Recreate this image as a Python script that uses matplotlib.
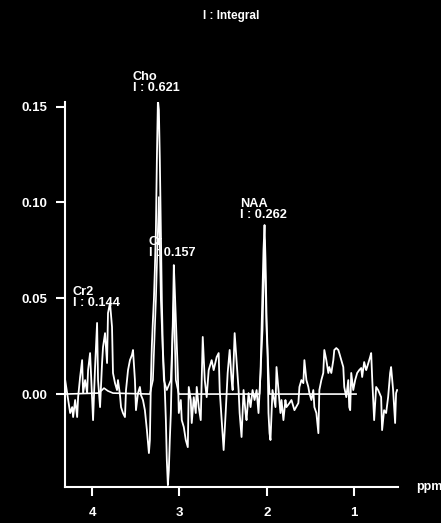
# MR spectrum with fitted peaks, integral labels, black background

import matplotlib.pyplot as plt
from matplotlib.ticker import FormatStrFormatter

# Spectrum (ppm, intensity)
ppm = [4.308, 4.285, 4.274, 4.251, 4.228, 4.217, 4.194, 4.171, 4.160, 4.137,
       4.114, 4.103, 4.080, 4.057, 4.046, 4.023, 4.000, 3.989, 3.966, 3.943,
       3.932, 3.909, 3.886, 3.875, 3.852, 3.829, 3.818, 3.795, 3.772, 3.761,
       3.738, 3.715,
       3.704, 3.681, 3.669, 3.647, 3.624, 3.612, 3.589, 3.567, 3.544, 3.532,
       3.510, 3.498, 3.475, 3.453, 3.441, 3.418, 3.396, 3.373, 3.350, 3.339,
       3.327, 3.316, 3.304, 3.293, 3.282, 3.270, 3.259, 3.247, 3.236, 3.225,
       3.213, 3.202, 3.190, 3.168, 3.156, 3.145, 3.133, 3.122, 3.111, 3.099,
       3.088, 3.076, 3.065, 3.054, 3.042, 3.031, 3.019, 3.008,
       2.985, 2.974, 2.951, 2.928, 2.905, 2.894, 2.871, 2.860, 2.837, 2.814,
       2.803, 2.780, 2.757, 2.734, 2.711, 2.689, 2.666, 2.632, 2.609, 2.575,
       2.552, 2.540, 2.518, 2.495, 2.472, 2.449, 2.426, 2.404, 2.392, 2.369,
       2.358, 2.324, 2.312, 2.290, 2.267, 2.244, 2.233, 2.210, 2.187, 2.164,
       2.141, 2.118, 2.096, 2.073, 2.061, 2.050, 2.039, 2.027, 2.016, 2.004,
       1.993, 1.982, 1.970, 1.959, 1.936, 1.902, 1.890, 1.868, 1.845, 1.833,
       1.811, 1.788, 1.776, 1.742,
       1.719, 1.685, 1.640, 1.628, 1.605, 1.583, 1.571, 1.548, 1.526, 1.514,
       1.491, 1.469, 1.457, 1.434, 1.411, 1.400, 1.377, 1.355, 1.343, 1.320,
       1.297, 1.286, 1.263, 1.240, 1.229, 1.206, 1.183, 1.172, 1.149, 1.126,
       1.115, 1.092, 1.069, 1.058,
       1.047, 1.035, 1.012, 0.990, 0.967, 0.944, 0.921, 0.910, 0.887, 0.864,
       0.853, 0.819, 0.807, 0.796, 0.773, 0.750, 0.727, 0.693, 0.682, 0.659,
       0.636, 0.613, 0.590, 0.579, 0.556, 0.533, 0.522, 0.510]
signal = [0.0073, 0.0005, -0.0031, -0.0099, -0.0068, -0.0120, -0.0031, -0.0120, -0.0016, 0.0089,
          0.0177, 0.0005, 0.0073, 0.0005, 0.0125, 0.0214, -0.0016, -0.0136, 0.0141, 0.0371,
          0.0073, -0.0068, 0.0162, 0.0245, 0.0318, 0.0162, 0.0423, 0.0475, 0.0350, 0.0110,
          0.0057, 0.0021,
          0.0073, -0.0005, -0.0068, -0.0099, -0.0120, 0.0021, 0.0125, 0.0177, 0.0204, 0.0230,
          0.0073, -0.0084, 0.0005, 0.0037, -0.0005, -0.0031, -0.0084, -0.0188, -0.0308, -0.0240,
          0.0073, 0.0256, 0.0386, 0.0491, 0.0647, 0.0856, 0.1221, 0.1535, 0.1482, 0.1221,
          0.0856, 0.0491, 0.0230, 0.0021, -0.0136, -0.0345, -0.0475, -0.0397, -0.0240, -0.0099,
          0.0125, 0.0386, 0.0673, 0.0543, 0.0386, 0.0256, 0.0110, -0.0099,
          -0.0031, -0.0136, -0.0172, -0.0240, -0.0277, 0.0037, -0.0031, -0.0151, -0.0016, -0.0099,
          0.0037, -0.0068, -0.0136, 0.0298, 0.0073, -0.0016, 0.0125, 0.0177, 0.0125, 0.0193,
          0.0214, 0.0021, -0.0136, -0.0292, -0.0099, 0.0110, 0.0230, 0.0073, 0.0021, 0.0318,
          0.0245, 0.0021, -0.0099, -0.0224, 0.0021, -0.0099, -0.0136, 0.0005, -0.0068, 0.0021,
          -0.0031, 0.0021, -0.0099, 0.0110, 0.0334, 0.0543, 0.0752, 0.0882, 0.0699, 0.0400,
          0.0230, -0.0099, -0.0204, -0.0240, 0.0021, -0.0068, 0.0141, 0.0021, -0.0099, -0.0031,
          -0.0136, -0.0031, -0.0068, -0.0047,
          -0.0031, -0.0084, -0.0047, 0.0037, 0.0073, 0.0057, 0.0177, 0.0073, 0.0037, 0.0005,
          -0.0031, 0.0021, -0.0068, -0.0099, -0.0204, 0.0021, 0.0073, 0.0110, 0.0230, 0.0177,
          0.0110, 0.0141, 0.0110, 0.0177, 0.0230, 0.0240, 0.0230, 0.0214, 0.0177, 0.0141,
          0.0037, -0.0016, 0.0073, -0.0068,
          -0.0084, 0.0110, 0.0021, 0.0073, 0.0110, 0.0125, 0.0136, 0.0089, 0.0167, 0.0125,
          0.0141, 0.0193, 0.0214, 0.0089, -0.0136, 0.0037, 0.0021, -0.0016, -0.0188, -0.0084,
          -0.0099, -0.0016, 0.0110, 0.0141, 0.0021, -0.0151, 0.0005, 0.0021]

# Baseline + fitted peaks
fit_ppm = [4.308, 3.932, 3.886, 3.864, 3.818, 3.761, 3.339, 3.304, 3.270, 3.236,
           3.213, 3.179, 3.145, 3.099, 3.065, 3.042, 3.008, 2.084, 2.050, 2.027,
           2.004, 1.970, 0.980]
fit_signal = [0.0, 0.0005, 0.0021, 0.0031, 0.0016, 0.0005, 0.0, 0.0073, 0.0491, 0.1028,
              0.0491, 0.0073, 0.0021, 0.0073, 0.0491, 0.0073, 0.0, 0.0, 0.0334, 0.0804,
              0.0334, 0.0, 0.0]

# Peak labels
peak_names = ["Cr2", "Cho", "Cr", "NAA"]
peak_integrals = ["0.144", "0.621", "0.157", "0.262"]
label_ppm = [4.22, 3.535, 3.35, 2.31]
label_y = [0.0445, 0.1565, 0.0705, 0.0905]

plt.rcParams['font.family'] = ['Liberation Sans', 'DejaVu Sans']
plt.rcParams['font.weight'] = 'bold'

fig = plt.figure(figsize=(4.41, 5.23), dpi=100, facecolor='black')
ax = fig.add_axes([0.1474, 0.0688, 0.7551, 0.7362], facecolor='black')

ax.plot(fit_ppm, fit_signal, color='white', lw=1.2)
ax.plot(ppm, signal, color='white', lw=1.3)

for name, integ, xp, yp in zip(peak_names, peak_integrals, label_ppm, label_y):
    ax.text(xp, yp, f"{name}\nI : {integ}", color='white', fontsize=9.2,
            ha='left', va='bottom', linespacing=0.85)

ax.set_xlim(4.31, 0.50)
ax.set_ylim(-0.0485, 0.1524)
ax.set_xticks([4, 3, 2, 1])
ax.set_yticks([0.0, 0.05, 0.10, 0.15])
ax.yaxis.set_major_formatter(FormatStrFormatter('%.2f'))

for side in ['top', 'right']:
    ax.spines[side].set_visible(False)
for side in ['left', 'bottom']:
    ax.spines[side].set_color('white')
    ax.spines[side].set_linewidth(1.5)

ax.tick_params(axis='both', colors='white', labelcolor='white', labelsize=9.5,
               width=1.5, length=6.5, direction='out')
ax.tick_params(axis='y', pad=6)
ax.tick_params(axis='x', pad=8)

ax.annotate("ppm", xy=(1.0, 0.0), xycoords='axes fraction', xytext=(13, 0),
            textcoords='offset points', color='white', fontsize=9,
            ha='left', va='center', annotation_clip=False)

fig.text(0.524, 0.969, "I : Integral", color='white', fontsize=8.5,
         ha='center', va='center')

fig.savefig('out.png', dpi=100, facecolor='black')
